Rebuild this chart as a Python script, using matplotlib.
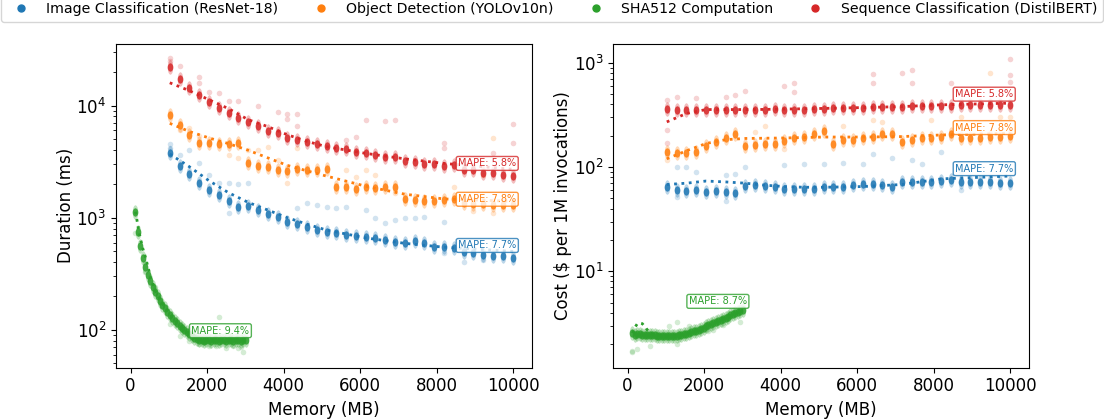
import matplotlib.pyplot as plt
from matplotlib.lines import Line2D
from matplotlib.markers import MarkerStyle
from matplotlib.transforms import Affine2D

plt.rcParams['font.family'] = ['DejaVu Sans']
plt.rcParams['font.size'] = 12

# 工作负载名称与颜色
SERIES = ['Image Classification (ResNet-18)', 'Object Detection (YOLOv10n)',
          'SHA512 Computation', 'Sequence Classification (DistilBERT)']
COLORS = ['#1f77b4', '#ff7f0e', '#2ca02c', '#d62728']

# 内存档位 (MB)
MEM_MODEL = [1024, 1280, 1536, 1792, 2048, 2304, 2560, 2816, 3072, 3328, 3584, 3840,
             4096, 4352, 4608, 4864, 5120, 5376, 5632, 5888, 6144, 6400, 6656, 6912,
             7168, 7424, 7680, 7936, 8192, 8448, 8704, 8960, 9216, 9472, 9728, 10000]
MEM_SHA = [128, 192, 256, 320, 384, 448, 512, 576, 640, 704, 768, 832, 896, 960, 1024,
           1088, 1152, 1216, 1280, 1344, 1408, 1472, 1536, 1600, 1664, 1728, 1792, 1856,
           1920, 1984, 2048, 2112, 2176, 2240, 2304, 2368, 2432, 2496, 2560, 2624, 2688,
           2752, 2816, 2880, 2944, 3008]

# 左图: 执行时间中位数 (ms)
RESNET_MS = [3780, 2900, 2470, 2060, 1765, 1580, 1410, 1240, 1265, 1170, 1085, 1010,
             920, 875, 820, 780, 750, 735, 700, 687, 677, 655, 632, 611,
             598, 618, 590, 550, 550, 533, 497, 480, 465, 455, 455, 434]
YOLO_MS = [8260, 6730, 5480, 4680, 4620, 4560, 4560, 4680, 3080, 2920, 2820, 2670,
           2590, 2700, 2670, 2640, 2740, 1890, 1890, 1820, 1870, 1830, 1860, 1890,
           1460, 1440, 1420, 1420, 1440, 1460, 1345, 1330, 1330, 1306, 1306, 1290]
DISTILBERT_MS = [22000, 17300, 14300, 12500, 10700, 9480, 8560, 7720, 7200, 6630, 5950, 5700,
                 5150, 4950, 4700, 4550, 4370, 4170, 4070, 3880, 3760, 3630, 3510, 3460,
                 3230, 3160, 3010, 3010, 2900, 2950, 2670, 2640, 2520, 2500, 2400, 2360]
SHA_MS = [1130, 740, 560, 440, 365, 310, 272, 242, 218, 198, 181, 167, 155, 145, 136,
          128, 120, 114, 108, 103, 99, 95, 91, 88, 85, 82, 81, 81,
          80, 81, 81, 80, 81, 81, 80, 81, 81, 80, 81, 81, 80, 81, 81, 80, 81, 81]

# 右图: 每百万次调用费用 ($)
RESNET_COST = [64.3, 59.7, 58.8, 59.7, 57.5, 58.8, 57.5, 56.2, 65.2, 66.7, 65.2, 64.3,
               61.9, 61.9, 61.9, 61.9, 64.3, 64.3, 64.3, 66.7, 68.1, 68.1, 66.7, 64.3,
               71.8, 71.8, 71.8, 71.8, 73.4, 75.7, 71.8, 71.8, 71.8, 71.8, 70.2, 70.2]
YOLO_COST = [139, 136, 136, 139, 158, 174, 192, 206, 158, 162, 165, 168,
             178, 190, 194, 209, 222, 168, 181, 183, 188, 194, 206, 209,
             174, 181, 188, 192, 194, 206, 188, 188, 192, 194, 194, 198]
DISTILBERT_COST = [364, 356, 356, 356, 356, 356, 356, 351, 351, 356, 356, 364,
                   356, 356, 356, 364, 364, 372, 372, 372, 372, 378, 378, 378,
                   378, 383, 383, 383, 383, 383, 392, 392, 392, 392, 392, 392]
SHA_COST = [2.55, 2.47, 2.50, 2.48, 2.46, 2.45, 2.45, 2.44, 2.43, 2.43, 2.42, 2.42, 2.41,
            2.40, 2.40, 2.39, 2.38, 2.40, 2.42, 2.44, 2.46, 2.49, 2.52, 2.56, 2.61, 2.65,
            2.69, 2.76, 2.82, 2.89, 2.96, 3.03, 3.11, 3.18, 3.26, 3.34, 3.42, 3.50, 3.59,
            3.68, 3.77, 3.86, 3.95, 4.05, 4.15, 4.25]

# 离群点 (内存, 数值)
RESNET_MS_OUT_MEM = [1024, 1024, 1280, 1536, 1792, 2048, 2304, 2560, 2816, 2560, 3072, 4352,
                     4608, 4864, 5120, 5376, 5632, 6144, 6400, 6656, 6912, 7168, 7424, 7680,
                     8192, 8192, 8704, 9216]
RESNET_MS_OUT = [4500, 4200, 3600, 4000, 3060, 2400, 2030, 2030, 1990, 1110, 2030, 1210,
                 1360, 1300, 1250, 1230, 1250, 1170, 990, 890, 960, 988, 1000, 1020,
                 920, 481, 405, 420]
YOLO_MS_OUT_MEM = [1280, 1536, 1792, 2560, 2816, 3072, 3328, 3584, 3840, 4096, 4352, 4608,
                   5632, 5888, 6144, 6400, 6912, 8448, 9216, 9472, 8960, 9472]
YOLO_MS_OUT = [6000, 6280, 5400, 3630, 3400, 4030, 4030, 4260, 3300, 2030, 4170, 2570,
               2670, 2300, 2670, 2400, 1650, 1890, 2400, 1100, 1150, 5100]
DISTILBERT_MS_OUT_MEM = [1024, 1024, 1280, 1792, 1792, 2048, 2304, 2560, 2816, 3328, 3840, 4096,
                         4096, 4352, 4352, 6144, 6656, 6912, 5888, 5632, 8192, 8192, 10000,
                         10000, 9472]
DISTILBERT_MS_OUT = [26500, 25000, 22600, 18000, 16000, 13300, 13000, 11000, 11000, 9930, 8830,
                     8500, 7600, 8500, 6590, 7450, 7300, 7450, 5220, 4900, 4620, 4200, 6870,
                     4600, 3800]
SHA_MS_OUT_MEM = [128, 384, 640, 1024, 1280, 1536, 1792, 2048, 2240, 2304, 2496, 2688, 2816,
                  2880, 2944]
SHA_MS_OUT = [725, 330, 240, 113, 88, 80, 74, 71, 71, 131, 69, 72, 68, 70, 63]

RESNET_COST_OUT_MEM = [1280, 1536, 1792, 2560, 2816, 3072, 4096, 4608, 5120, 5632, 6144, 6400,
                       6912, 7424, 7680, 8192, 8704, 8704, 2560, 1280]
RESNET_COST_OUT = [100, 100, 89.6, 83, 86, 100, 105, 108, 107, 110, 108, 134,
                   121, 118, 108, 139, 91.5, 60, 47, 52]
YOLO_COST_OUT_MEM = [1024, 3328, 3584, 4096, 6400, 6656, 7936, 8704, 9472, 5632, 9728, 10000]
YOLO_COST_OUT = [118, 217, 246, 150, 281, 270, 281, 303, 790, 250, 300, 300]
DISTILBERT_COST_OUT_MEM = [1024, 1024, 1024, 1280, 1792, 2560, 2816, 3072, 4096, 4352, 4352,
                           6400, 6400, 7168, 7424, 7424, 8448, 10000, 10000, 10000]
DISTILBERT_COST_OUT = [437, 229, 170, 465, 455, 465, 490, 538, 593, 634, 520,
                       774, 634, 803, 851, 634, 634, 1097, 760, 650]
SHA_COST_OUT_MEM = [128, 128, 256, 576, 1088, 1280, 1280, 1600, 2112, 2240, 2496, 2944]
SHA_COST_OUT = [1.71, 1.68, 1.80, 1.93, 3.0, 3.24, 2.03, 3.0, 2.69, 2.75, 3.06, 3.3]

# 拟合曲线 (点线)
FIT_MEM = [1024, 1536, 2048, 2560, 3072, 3584, 4096, 4608, 5120, 6144, 7168, 8192, 10000]
RESNET_FIT_MS = [3700, 2850, 2140, 1670, 1370, 1170, 1000, 875, 775, 660, 590, 545, 500]
YOLO_FIT_MS = [6950, 5880, 5150, 4580, 4000, 3420, 2930, 2620, 2350, 1910, 1620, 1470, 1400]
DISTILBERT_FIT_MS = [16000, 13600, 11300, 9400, 7500, 6500, 5500, 4800, 4300, 3750, 3350, 3050, 2700]
RESNET_FIT_COST = [68, 70, 73.4, 72, 70, 67, 65, 64, 64, 65, 68, 77, 82]
YOLO_FIT_COST = [120, 143, 168, 183, 188, 189, 190, 192, 194, 194, 196, 203, 210]
DISTILBERT_FIT_COST = [271, 326, 356, 356, 356, 357, 360, 362, 365, 372, 380, 395, 410]

SHA_FIT_MEM = [128, 192, 256, 320, 384, 448, 512, 640, 768, 1024, 1280, 1536, 1792, 2048,
               2560, 3008]
SHA_FIT_MS = [1130, 850, 650, 530, 450, 370, 300, 225, 185, 138, 108, 91, 82, 81, 81, 81]
SHA_FIT_COST = [2.55, 2.9, 3.15, 3.2, 3.15, 2.95, 2.75, 2.5, 2.44, 2.40, 2.42, 2.52, 2.69,
                2.96, 3.59, 4.25]

# MAPE 标注
MAPE_DURATION = [7.7, 7.8, 9.4, 5.8]
MAPE_COST = [7.7, 7.8, 8.7, 5.8]
LABEL_X_DURATION = [8560, 8560, 1590, 8560]
LABEL_Y_DURATION = [565, 1460, 98, 3050]
LABEL_X_COST = [8560, 8560, 1600, 8560]
LABEL_Y_COST = [96.5, 239, 5.15, 500]

# 点簇用竖向拉长的圆点
HALO = MarkerStyle('o', transform=Affine2D().scale(1, 2.6))
CORE = MarkerStyle('o', transform=Affine2D().scale(1, 1.5))


def draw_series(ax, mem, vals, out_mem, out_vals, fit_mem, fit_vals, color, lx, ly, mape):
    ax.scatter(out_mem, out_vals, s=16, color=color, alpha=0.2, linewidths=0)
    ax.scatter(mem, vals, s=16, marker=HALO, color=color, alpha=0.3, linewidths=0)
    ax.scatter(mem, vals, s=16, marker=CORE, color=color, alpha=0.85, linewidths=0)
    ax.plot(fit_mem, fit_vals, linestyle=':', linewidth=2, color=color)
    ax.text(lx, ly, f'MAPE: {mape}%', fontsize=7, color=color, ha='left', va='center',
            bbox=dict(boxstyle='round,pad=0.2', facecolor='white', edgecolor=color, alpha=0.8))


fig = plt.figure(figsize=(11.04, 4.19), dpi=100)
ax1 = fig.add_axes([0.1051, 0.1224, 0.3768, 0.7726])
ax2 = fig.add_axes([0.5553, 0.1224, 0.3768, 0.7726])

duration = [
    (MEM_MODEL, RESNET_MS, RESNET_MS_OUT_MEM, RESNET_MS_OUT, FIT_MEM, RESNET_FIT_MS),
    (MEM_MODEL, YOLO_MS, YOLO_MS_OUT_MEM, YOLO_MS_OUT, FIT_MEM, YOLO_FIT_MS),
    (MEM_SHA, SHA_MS, SHA_MS_OUT_MEM, SHA_MS_OUT, SHA_FIT_MEM, SHA_FIT_MS),
    (MEM_MODEL, DISTILBERT_MS, DISTILBERT_MS_OUT_MEM, DISTILBERT_MS_OUT, FIT_MEM, DISTILBERT_FIT_MS),
]
cost = [
    (MEM_MODEL, RESNET_COST, RESNET_COST_OUT_MEM, RESNET_COST_OUT, FIT_MEM, RESNET_FIT_COST),
    (MEM_MODEL, YOLO_COST, YOLO_COST_OUT_MEM, YOLO_COST_OUT, FIT_MEM, YOLO_FIT_COST),
    (MEM_SHA, SHA_COST, SHA_COST_OUT_MEM, SHA_COST_OUT, SHA_FIT_MEM, SHA_FIT_COST),
    (MEM_MODEL, DISTILBERT_COST, DISTILBERT_COST_OUT_MEM, DISTILBERT_COST_OUT, FIT_MEM, DISTILBERT_FIT_COST),
]

for i in range(4):
    draw_series(ax1, *duration[i], COLORS[i], LABEL_X_DURATION[i], LABEL_Y_DURATION[i], MAPE_DURATION[i])
    draw_series(ax2, *cost[i], COLORS[i], LABEL_X_COST[i], LABEL_Y_COST[i], MAPE_COST[i])

for ax in (ax1, ax2):
    ax.set_yscale('log')
    ax.set_xlim(-380, 10490)
    ax.set_xlabel('Memory (MB)')
ax1.set_ylim(45.8, 35500)
ax2.set_ylim(1.19, 1514)
ax1.set_ylabel('Duration (ms)', labelpad=1)
ax2.set_ylabel('Cost ($ per 1M invocations)', labelpad=1)

handles = [Line2D([], [], marker='o', linestyle='', color=c, markersize=5) for c in COLORS]
fig.legend(handles, SERIES, loc='upper center', bbox_to_anchor=(0.5, 1.008), ncol=4,
           fontsize=10.15, borderaxespad=0)

fig.savefig('out.png', dpi=100)
